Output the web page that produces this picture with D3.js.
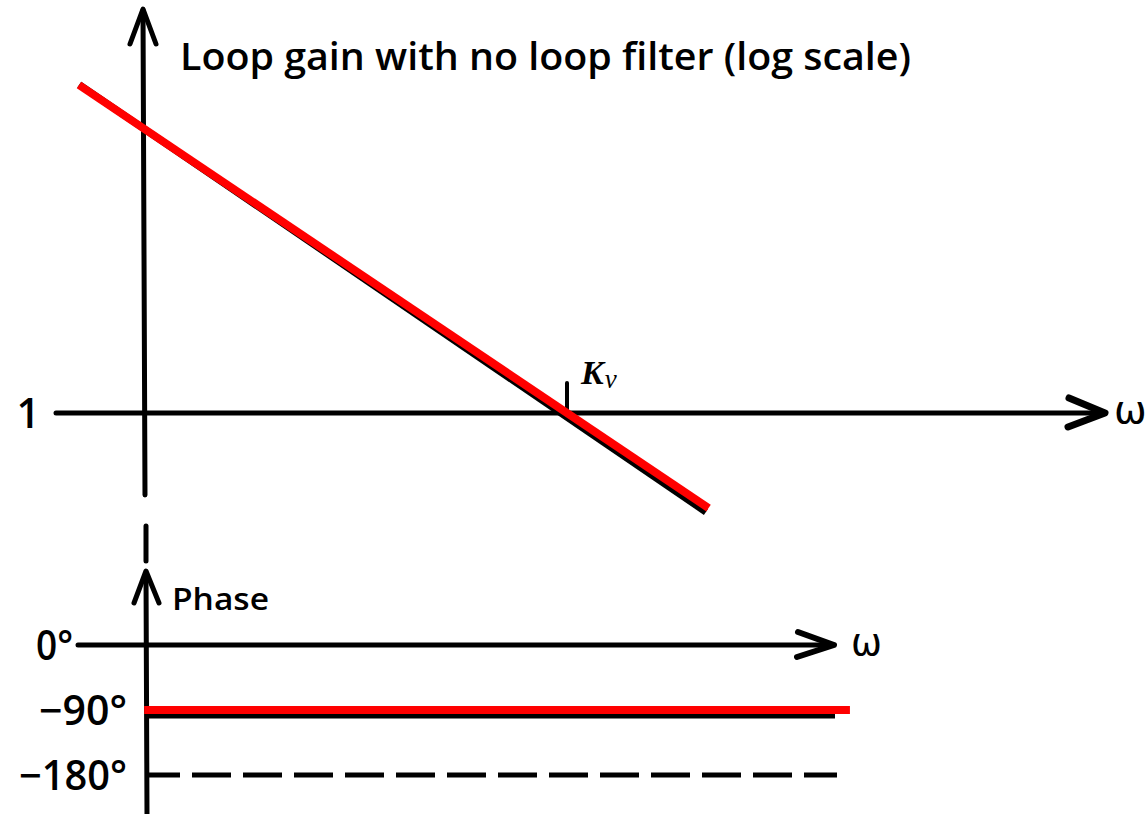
<!DOCTYPE html>
<html>
<head>
<meta charset="utf-8">
<script src="https://cdn.jsdelivr.net/npm/d3@7"></script>
<style>
  html, body { margin: 0; padding: 0; background: #fff; }
  svg { display: block; }
  text { font-family: "Open Sans", "Liberation Sans", sans-serif; fill: #000; }
</style>
</head>
<body>
<svg id="chart" width="1146" height="814"></svg>
<script>
// Loop gain magnitude (asymptote, -20 dB/decade) and phase with no loop filter
const Kv = 10;                       // crossover frequency where |G| = 1
const gainOmega = [1, 19.5];         // ω at the ends of the magnitude line
const gainValues = [10, 0.513];      // |G(jω)| = Kv / ω at those ends
const gainTicks = [1];
const gainTickLabels = ["1"];

const phaseOmega = [1.36, 38];
const phaseValues = [-90, -90];
const phaseTicks = [0, -90, -180];
const phaseTickLabels = ["0°", "−90°", "−180°"];

const title = "Loop gain with no loop filter (log scale)";
const phaseTitle = "Phase";

const svg = d3.select("#chart");

// Shared log frequency scale, log gain scale, linear phase scale
const x = d3.scaleLog().domain([1, 10]).range([79, 567]);
const yGain = d3.scaleLog().domain([1, 10]).range([413, 85]);
const yPhase = d3.scaleLinear().domain([0, -180]).range([645, 775]);

const axisX = 144;           // position of the vertical axes
const stroke = 5;

function seg(x1, y1, x2, y2, w) {
  return svg.append("line")
    .attr("x1", x1).attr("y1", y1).attr("x2", x2).attr("y2", y2)
    .attr("stroke", "#000").attr("stroke-width", w || stroke)
    .attr("stroke-linecap", "round");
}
function arrow(d, w) {
  svg.append("path").attr("d", d).attr("fill", "none")
    .attr("stroke", "#000").attr("stroke-width", w || stroke)
    .attr("stroke-linejoin", "round").attr("stroke-linecap", "round");
}

// ---------- Magnitude plot ----------
const g1 = yGain(gainTicks[0]);
seg(axisX - 1, 10, axisX + 1, 495);                 // vertical axis
arrow("M130,44 L143,9 L156,44");
seg(56, g1, 1100, g1);                               // ω axis at |G| = 1
arrow("M1069,398 L1105,413 L1068,427", 7);

svg.append("text").attr("x", 1114).attr("y", g1 + 10)
  .style("font-family", "'DejaVu Sans', sans-serif")
  .style("font-size", "39px").text("ω");

svg.append("text").attr("x", 180).attr("y", 70)
  .style("font-size", "37px").style("font-weight", 600)
  .attr("textLength", 731).attr("lengthAdjust", "spacingAndGlyphs")
  .text(title);

svg.selectAll("text.gtick").data(gainTicks).join("text")
  .attr("class", "gtick")
  .attr("x", 40).attr("y", d => yGain(d) + 15)
  .attr("text-anchor", "end")
  .style("font-size", "41px").style("font-weight", 600)
  .text((d, i) => gainTickLabels[i]);

// Kv marker
seg(x(Kv), yGain(1) - 30, x(Kv), yGain(1), 4);
const kv = svg.append("text").attr("x", x(Kv) + 14).attr("y", yGain(1) - 29)
  .style("font-family", "'Liberation Serif', serif");
kv.append("tspan").style("font-size", "34px").style("font-weight", "bold")
  .style("font-style", "italic").text("K");
kv.append("tspan").attr("dy", 4).attr("dx", 1).style("font-size", "27px")
  .style("font-style", "italic").text("v");

const gainPts = gainOmega.map((w, i) => [x(w), yGain(gainValues[i])]);
const line = d3.line();
// underlying black asymptote, then the red trace on top
svg.append("path").attr("d", line(gainPts))
  .attr("fill", "none").attr("stroke", "#000").attr("stroke-width", 7)
  .attr("transform", `rotate(0.4, ${x(Kv)}, ${yGain(1)}) translate(-2, 3)`);
svg.append("path").attr("d", line(gainPts))
  .attr("fill", "none").attr("stroke", "#ff0000").attr("stroke-width", 8);

// dashed break between the two plots
seg(146, 526, 146, 561);

// ---------- Phase plot ----------
const p0 = yPhase(0);
seg(146, 574, 147, 814);                             // vertical axis
arrow("M134,603 L146,571 L159,603");
seg(78, p0, 832, p0);                                // ω axis at 0°
arrow("M798,632 L834,645 L797,657", 6);
svg.append("text").attr("x", 851).attr("y", p0 + 10)
  .style("font-family", "'DejaVu Sans', sans-serif")
  .style("font-size", "37px").text("ω");

svg.append("text").attr("x", 172).attr("y", 610)
  .style("font-size", "31px").style("font-weight", 600)
  .attr("textLength", 97).attr("lengthAdjust", "spacingAndGlyphs")
  .text(phaseTitle);

svg.selectAll("text.ptick").data(phaseTicks).join("text")
  .attr("class", "ptick")
  .attr("x", d => d === 0 ? 73 : 127)
  .attr("y", d => yPhase(d) + 15)
  .attr("text-anchor", "end")
  .style("font-size", "41px").style("font-weight", 600)
  .attr("textLength", (d, i) => [37, 88, 108][i])
  .attr("lengthAdjust", "spacingAndGlyphs")
  .text((d, i) => phaseTickLabels[i]);

// -180° reference (dashed)
const p180 = yPhase(-180);
svg.append("line")
  .attr("x1", 147).attr("y1", p180).attr("x2", 837).attr("y2", p180)
  .attr("stroke", "#000").attr("stroke-width", stroke)
  .attr("stroke-dasharray", "39,12").attr("stroke-dashoffset", 6);

// black -90° asymptote under the red phase trace
const p90 = yPhase(-90);
svg.append("line")
  .attr("x1", 146).attr("y1", p90 + 6).attr("x2", 835).attr("y2", p90 + 6)
  .attr("stroke", "#000").attr("stroke-width", 5);
const phasePts = phaseOmega.map((w, i) => [x(w), yPhase(phaseValues[i])]);
svg.append("path").attr("d", line(phasePts))
  .attr("fill", "none").attr("stroke", "#ff0000").attr("stroke-width", 8);
</script>
</body>
</html>
